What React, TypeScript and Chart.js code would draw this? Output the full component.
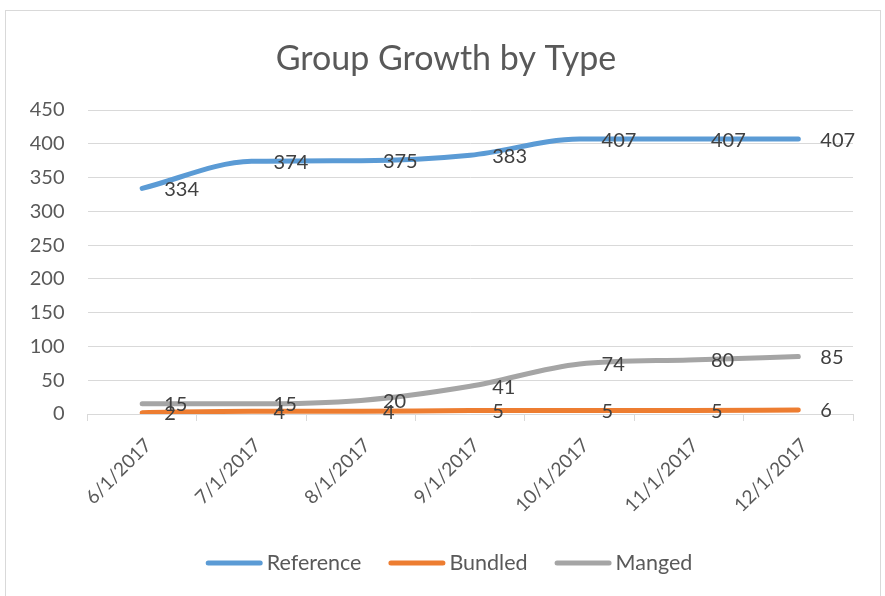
import React, { useEffect, useRef } from "react";
import { Chart, registerables } from "chart.js";

Chart.register(...registerables);

const categories = ["6/1/2017", "7/1/2017", "8/1/2017", "9/1/2017", "10/1/2017", "11/1/2017", "12/1/2017"];
const referenceValues = [334, 374, 375, 383, 407, 407, 407];
const bundledValues = [2, 4, 4, 5, 5, 5, 6];
const mangedValues = [15, 15, 20, 41, 74, 80, 85];
const seriesNames = ["Reference", "Bundled", "Manged"];
const seriesColors = ["#5B9BD5", "#ED7D31", "#A5A5A5"];
const yMin = 0;
const yMax = 450;
const yStep = 50;
const chartTitle = "Group Growth by Type";

const FONT = "Lato";
const TEXT = "#595959";
const GRID = "#d9d9d9";

const frame = {
  id: "frame",
  beforeDraw(chart: any) {
    const ctx = chart.ctx;
    ctx.save();
    ctx.fillStyle = "#ffffff";
    ctx.fillRect(0, 0, chart.width, chart.height);
    ctx.strokeStyle = GRID;
    ctx.lineWidth = 1;
    ctx.strokeRect(5.5, 10.5, 875, 600);
    ctx.restore();
  },
};

const titleDraw = {
  id: "titleDraw",
  afterDraw(chart: any) {
    const ctx = chart.ctx;
    ctx.save();
    ctx.font = `34px ${FONT}`;
    ctx.fillStyle = TEXT;
    ctx.textAlign = "center";
    ctx.textBaseline = "middle";
    ctx.fillText(chartTitle, 446, 59.5);
    ctx.restore();
  },
};

const dataLabels = {
  id: "dataLabels",
  afterDatasetsDraw(chart: any) {
    const ctx = chart.ctx;
    ctx.save();
    ctx.font = `20px ${FONT}`;
    ctx.fillStyle = "#404040";
    ctx.textAlign = "left";
    ctx.textBaseline = "middle";
    chart.data.datasets.forEach((ds: any, i: number) => {
      const meta = chart.getDatasetMeta(i);
      meta.data.forEach((pt: any, j: number) => {
        ctx.fillText(String(ds.data[j]), pt.x + 22, pt.y + 1);
      });
    });
    ctx.restore();
  },
};

const customLegend = {
  id: "customLegend",
  afterDraw(chart: any) {
    const ctx = chart.ctx;
    ctx.save();
    ctx.font = `21.5px ${FONT}`;
    const boxW = 57;
    const gapText = 4;
    const gapItem = 27;
    const items = chart.data.datasets.map((ds: any) => ({
      text: ds.label,
      color: ds.borderColor,
      w: ctx.measureText(ds.label).width,
    }));
    const total = items.reduce((s: number, it: any) => s + boxW + gapText + it.w, 0) + gapItem * (items.length - 1);
    let x = 449 - total / 2;
    const y = 563;
    items.forEach((it: any) => {
      ctx.strokeStyle = it.color;
      ctx.lineWidth = 5;
      ctx.lineCap = "round";
      ctx.beginPath();
      ctx.moveTo(x + 2.5, y);
      ctx.lineTo(x + boxW - 2.5, y);
      ctx.stroke();
      ctx.fillStyle = TEXT;
      ctx.textAlign = "left";
      ctx.textBaseline = "middle";
      ctx.fillText(it.text, x + boxW + gapText, y);
      x += boxW + gapText + it.w + gapItem;
    });
    ctx.restore();
  },
};

export default function App() {
  const ref = useRef<HTMLCanvasElement | null>(null);

  useEffect(() => {
    if (!ref.current) return;
    const values = [referenceValues, bundledValues, mangedValues];
    const chart = new Chart(ref.current, {
      type: "line",
      data: {
        labels: categories,
        datasets: seriesNames.map((name, i) => ({
          label: name,
          data: values[i],
          borderColor: seriesColors[i],
          backgroundColor: seriesColors[i],
          borderWidth: 5,
          borderCapStyle: "round",
          borderJoinStyle: "round",
          pointRadius: 0,
          pointHoverRadius: 0,
          cubicInterpolationMode: "monotone",
          fill: false,
        })),
      },
      options: {
        responsive: false,
        animation: false,
        devicePixelRatio: 1,
        layout: { padding: { left: 20, right: 32, top: 110, bottom: 20 } },
        plugins: {
          legend: { display: false },
          tooltip: { enabled: false },
          title: { display: false },
        },
        scales: {
          x: {
            offset: true,
            grid: {
              display: true,
              drawOnChartArea: false,
              drawTicks: true,
              tickLength: 7,
              color: GRID,
              offset: true,
            },
            border: { display: true, color: GRID, width: 1 },
            ticks: {
              color: TEXT,
              font: { family: FONT, size: 19 },
              maxRotation: 45,
              minRotation: 45,
              autoSkip: false,
              labelOffset: 6,
              padding: 13,
            },
            afterFit(scale: any) {
              scale.height = 596 - 414 - 20;
            },
          },
          y: {
            min: yMin,
            max: yMax,
            ticks: {
              stepSize: yStep,
              color: TEXT,
              font: { family: FONT, size: 20 },
              padding: 23,
            },
            grid: { color: GRID, drawTicks: false },
            border: { display: false },
            afterFit(scale: any) {
              scale.width = 67.5;
            },
          },
        },
      },
      plugins: [frame, titleDraw, dataLabels, customLegend],
    } as any);
    return () => chart.destroy();
  }, []);

  return (
    <div style={{ position: "absolute", left: 0, top: 0, width: 885, height: 596 }}>
      <canvas ref={ref} width={885} height={596} style={{ display: "block" }} />
    </div>
  );
}
